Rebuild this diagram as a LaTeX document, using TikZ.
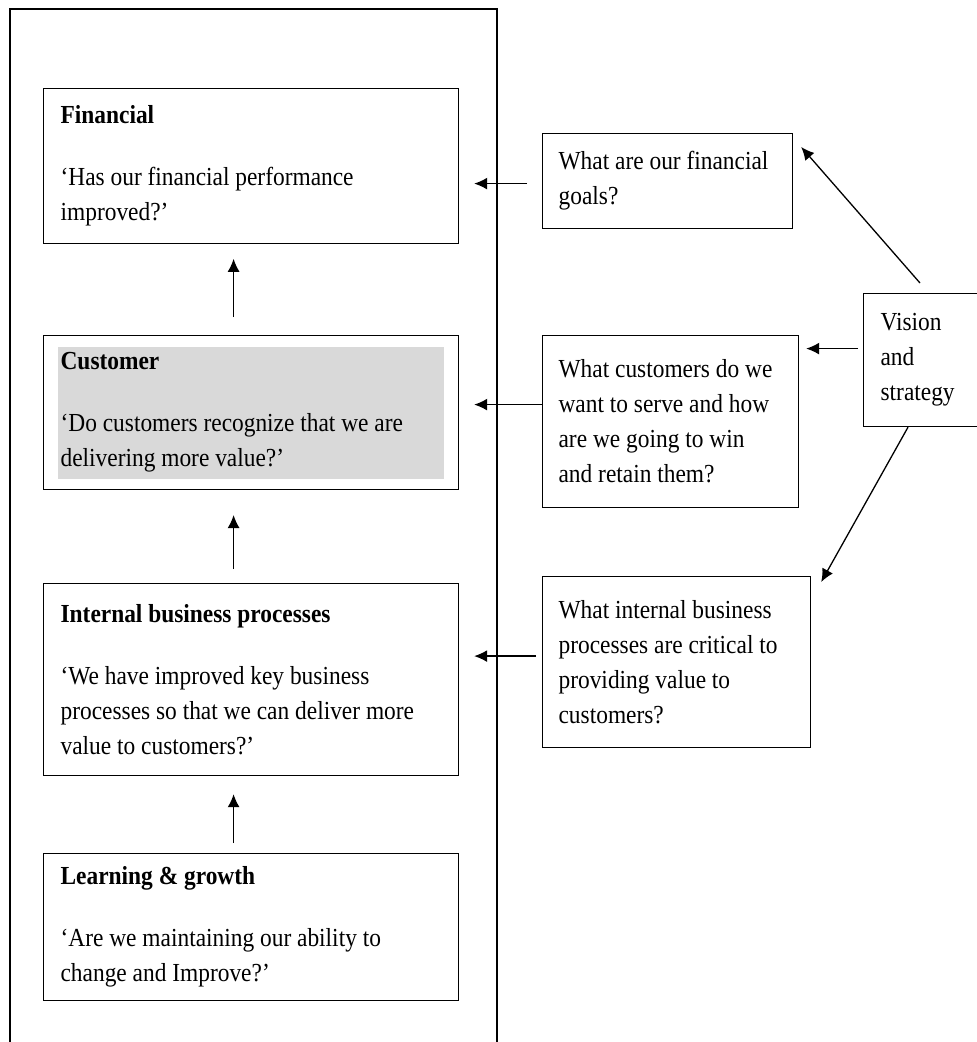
\documentclass[tikz,border=0pt]{standalone}
\usepackage{fontspec}
\setmainfont[FakeStretch=0.9]{Liberation Serif}
\usetikzlibrary{arrows.meta}
\usetikzlibrary{backgrounds}

\begin{document}
\begin{tikzpicture}[x=1pt, y=-1pt,
		persp/.style={draw, line width=1.2pt, anchor=north west, align=flush left, text width=381pt, inner xsep=17pt, inner ysep=17pt, font=\fontsize{26}{35}\selectfont},
		quest/.style={draw, line width=1.2pt, anchor=north west, align=flush left, inner xsep=16pt, inner ysep=0pt, font=\fontsize{26}{35}\selectfont},
		link/.style={-{Latex[length=13pt, width=12pt]}, line width=1.3pt}]
		\useasboundingbox (0,0) rectangle (977,1042);

		% frame round the four perspectives
		\draw[line width=1.2pt] (10,1060) -- (10,9) -- (497,9) -- (497,1060);

		\node[persp] (fin) at (43,88) {\textbf{Financial}\\[27pt] `Has our financial performance\\ improved?'};
		\node[persp] (cust) at (43,335) {\textbf{Customer}\\[27pt] `Do customers recognize that we are\\ delivering more value?'};
		\node[persp, minimum height=192pt] (intl) at (43,583) {\textbf{Internal business processes}\\[27pt] `We have improved key business\\ processes so that we can deliver more\\ value to customers?'};
		\node[persp, inner ysep=13pt] (learn) at (43,853) {\textbf{Learning \& growth}\\[27pt] `Are we maintaining our ability to\\ change and Improve?'};

		\begin{scope}[on background layer]
			\fill[black!15] ([shift={(15,12)}]cust.north west) rectangle ([shift={(-15,-11)}]cust.south east);
		\end{scope}

		\node[quest, text width=218pt, minimum height=95pt] (qfin) at (542,133) {What are our financial\\ goals?};
		\node[quest, text width=224pt, minimum height=172pt] (qcust) at (542,335) {What customers do we\\ want to serve and how\\ are we going to win\\ and retain them?};
		\node[quest, text width=236pt, minimum height=171pt] (qintl) at (542,576) {What internal business\\ processes are critical to\\ providing value to\\ customers?};
		\node[quest, inner xsep=17pt, text width=160pt, minimum height=133pt] (vis) at (863,293) {Vision\\ and\\ strategy};

		% upward links
		\draw[link, shorten <=18pt, shorten >=15pt] ([xshift=-17.5pt]cust.north) -- ([xshift=-17.5pt]fin.south);
		\draw[link, shorten <=14pt, shorten >=25pt] ([xshift=-17.5pt]intl.north) -- ([xshift=-17.5pt]cust.south);
		\draw[link, shorten <=10pt, shorten >=18pt] ([xshift=-17.5pt]learn.north) -- ([xshift=-17.5pt]intl.south);

		% questions to perspectives
		\draw[link, shorten <=15pt, shorten >=15pt] ([shift={(0,2.5)}]qfin.west) -- ([shift={(0,2.5)}]qfin.west -| fin.east);
		\draw[link, shorten >=15pt] ([shift={(0,-17)}]qcust.west) -- ([shift={(0,-17)}]qcust.west -| cust.east);
		\draw[link, shorten <=6pt, shorten >=15pt] ([shift={(0,-6)}]qintl.west) -- ([shift={(0,-6)}]qintl.west -| intl.east);

		% vision to questions
		\draw[link] ([shift={(57,-10)}]vis.north west) -- ([shift={(8,14)}]qfin.north east);
		\draw[link, shorten <=5pt, shorten >=7pt] ([shift={(0,-11.5)}]vis.west) -- ([shift={(0,-11.5)}]vis.west -| qcust.east);
		\draw[link] ([shift={(45,0)}]vis.south west) -- ([shift={(10,6)}]qintl.north east);
	\end{tikzpicture}
\end{document}
